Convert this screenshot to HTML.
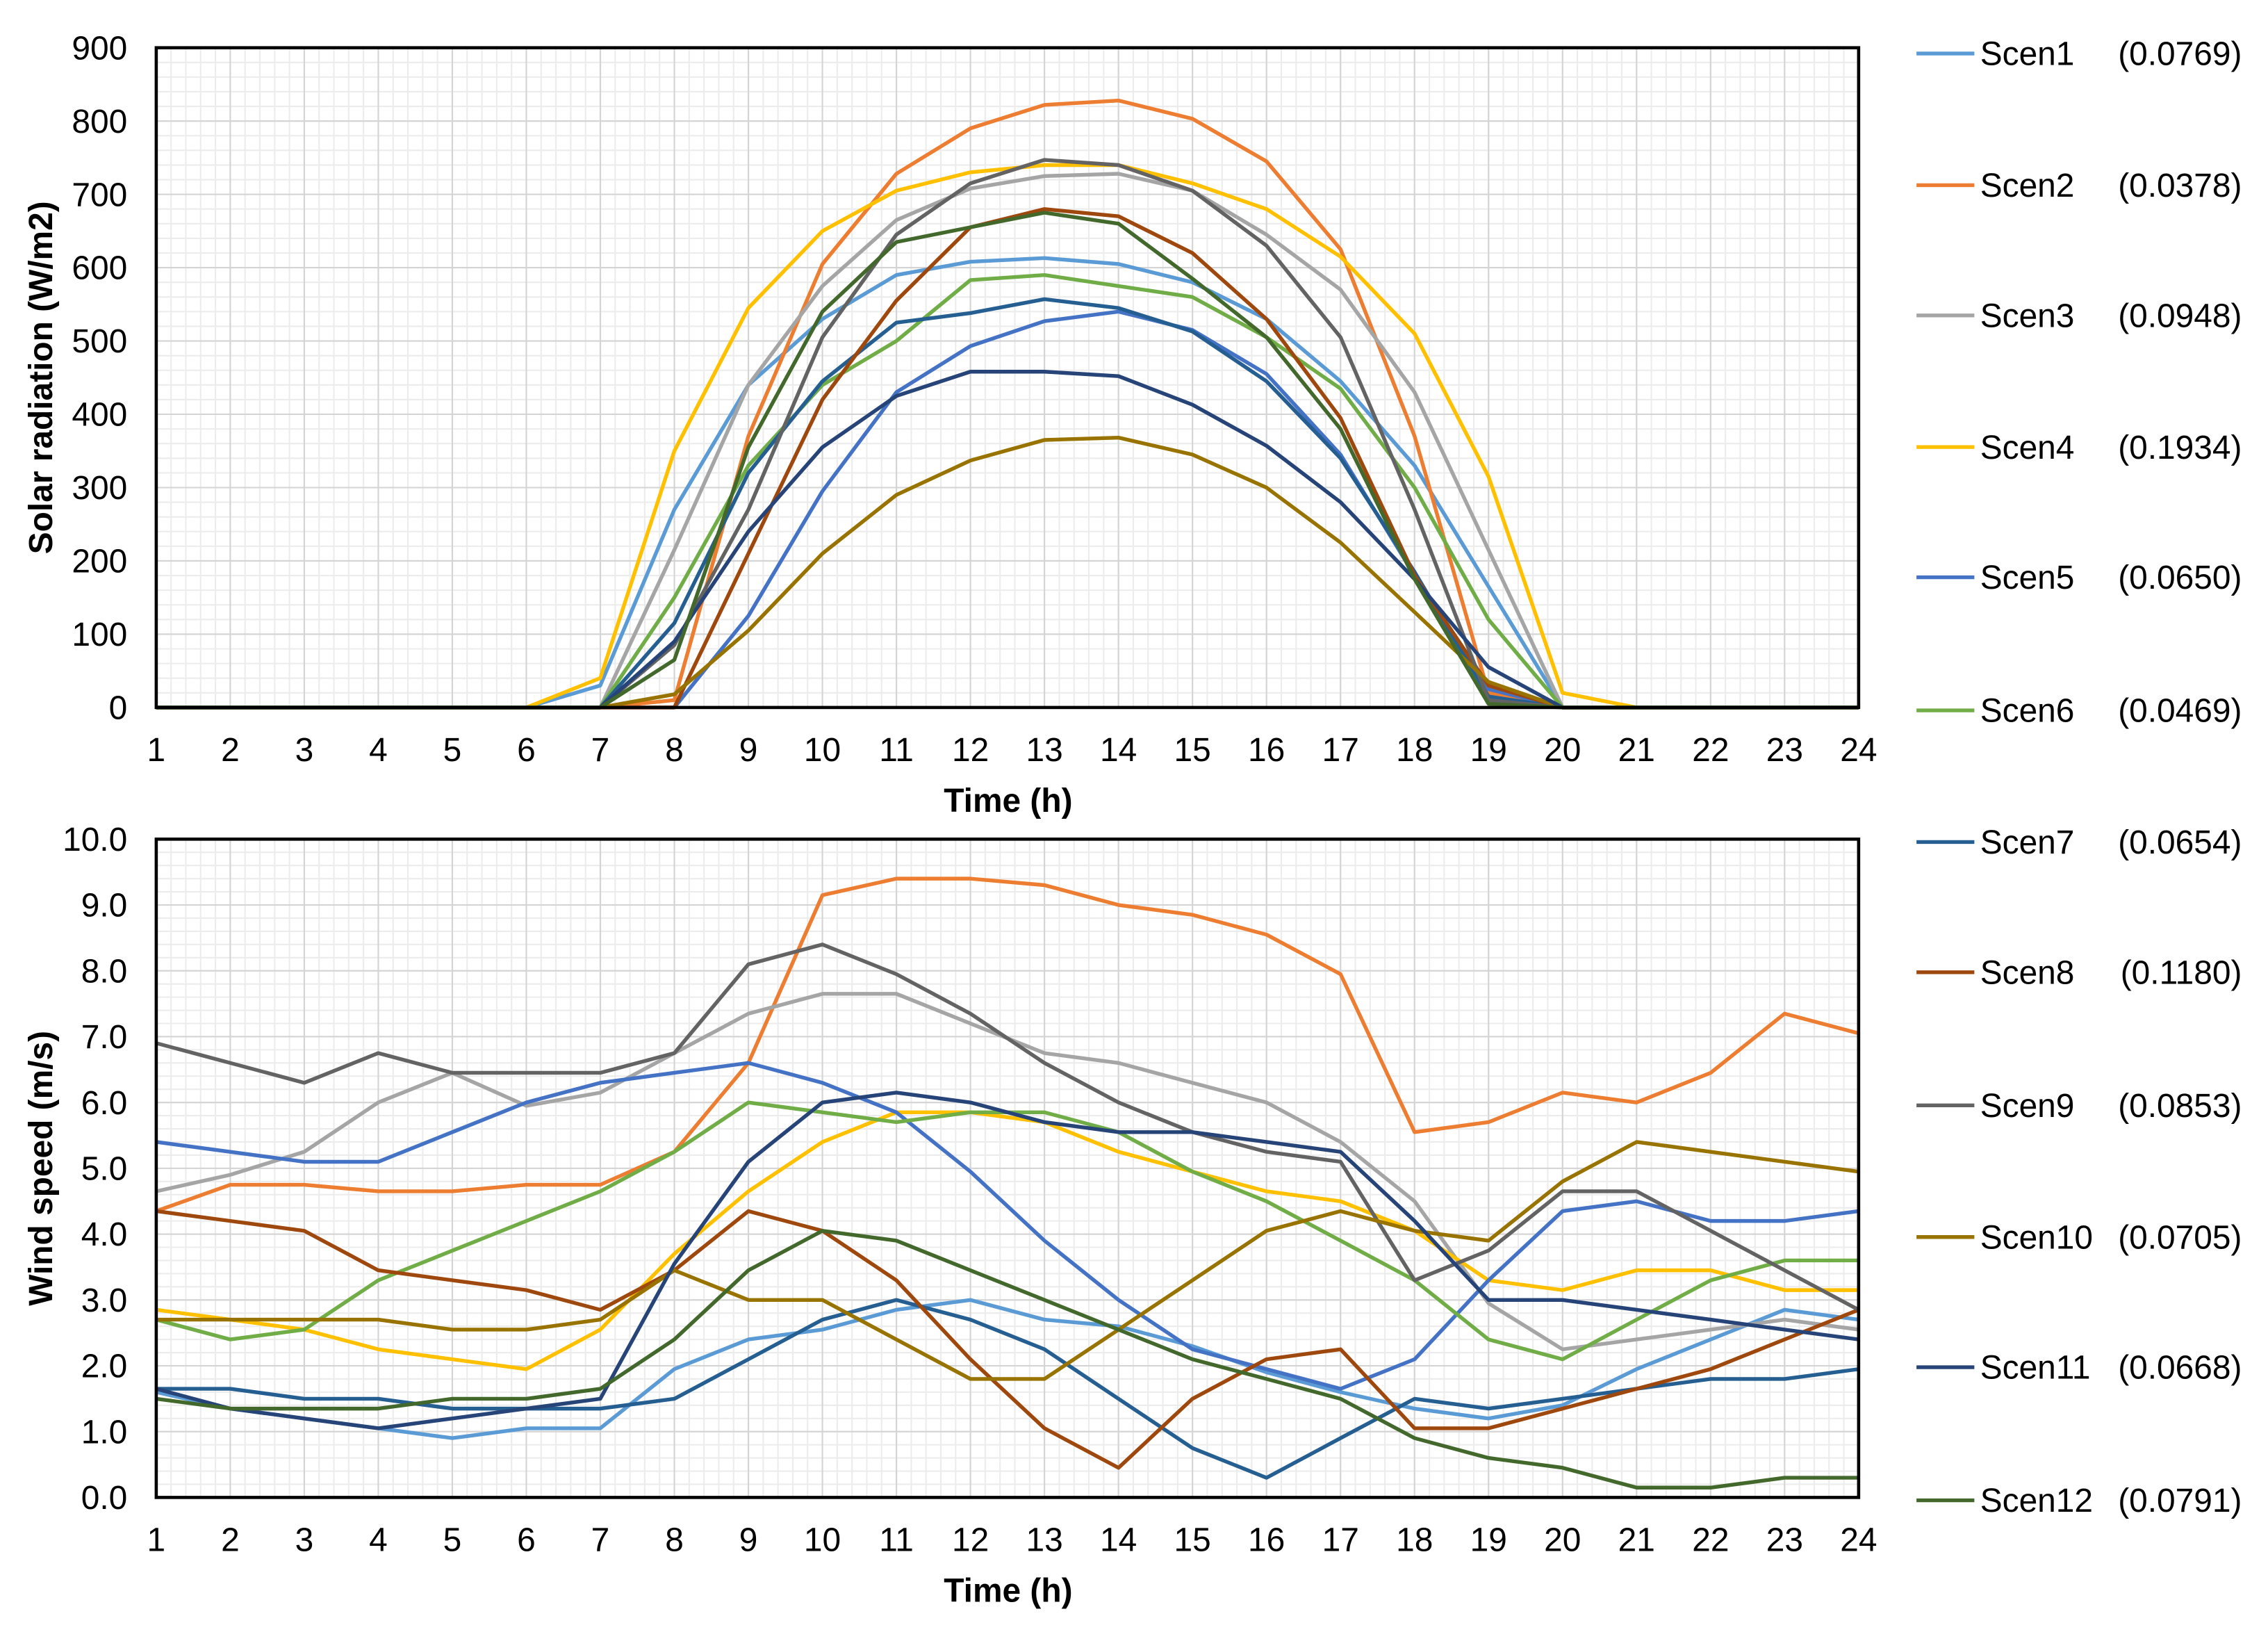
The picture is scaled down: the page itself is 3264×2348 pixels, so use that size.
<!DOCTYPE html>
<html><head><meta charset="utf-8"><style>
html,body{margin:0;padding:0;background:#fff;}
svg{display:block;font-family:"Liberation Sans",Arial,sans-serif;}
</style></head><body>
<svg id="chart" width="3264" height="2348" viewBox="0 0 1568 1128" xmlns="http://www.w3.org/2000/svg"></svg>
<script>
const hours = [1,2,3,4,5,6,7,8,9,10,11,12,13,14,15,16,17,18,19,20,21,22,23,24];
const scenNames = ["Scen1","Scen2","Scen3","Scen4","Scen5","Scen6","Scen7","Scen8","Scen9","Scen10","Scen11","Scen12"];
const scenProbs = ["(0.0769)","(0.0378)","(0.0948)","(0.1934)","(0.0650)","(0.0469)","(0.0654)","(0.1180)","(0.0853)","(0.0705)","(0.0668)","(0.0791)"];
const colors = ["#5B9BD5","#ED7D31","#A5A5A5","#FFC000","#4472C4","#70AD47","#255E91","#9E480E","#636363","#997300","#264478","#43682B"];
const solarTicks = [0,100,200,300,400,500,600,700,800,900];
const windTicks = [0,1,2,3,4,5,6,7,8,9,10];
const solar1 = [0,0,0,0,0,0,30,270,440,530,590,608,613,605,580,530,445,330,165,0,0,0,0,0];
const solar2 = [0,0,0,0,0,0,0,10,370,605,728,790,822,828,803,745,625,370,20,0,0,0,0,0];
const solar3 = [0,0,0,0,0,0,0,215,440,575,665,708,725,728,705,645,570,430,215,0,0,0,0,0];
const solar4 = [0,0,0,0,0,0,40,350,545,650,705,730,740,740,715,680,615,510,315,20,0,0,0,0];
const solar5 = [0,0,0,0,0,0,0,0,125,295,430,493,527,540,515,455,345,180,25,0,0,0,0,0];
const solar6 = [0,0,0,0,0,0,0,150,330,440,500,583,590,575,560,505,435,300,120,0,0,0,0,0];
const solar7 = [0,0,0,0,0,0,0,115,320,445,525,538,557,545,513,445,340,185,15,0,0,0,0,0];
const solar8 = [0,0,0,0,0,0,0,0,210,420,555,655,680,670,620,530,395,180,30,0,0,0,0,0];
const solar9 = [0,0,0,0,0,0,0,85,270,505,645,715,747,740,705,630,505,270,10,0,0,0,0,0];
const solar10 = [0,0,0,0,0,0,0,18,105,210,290,337,365,368,345,300,225,130,35,0,0,0,0,0];
const solar11 = [0,0,0,0,0,0,0,90,240,355,425,458,458,452,413,357,280,175,55,0,0,0,0,0];
const solar12 = [0,0,0,0,0,0,0,65,355,540,635,655,675,660,585,505,380,175,5,0,0,0,0,0];
const wind1 = [1.6,1.35,1.2,1.05,0.9,1.05,1.05,1.95,2.4,2.55,2.85,3.0,2.7,2.6,2.3,1.9,1.6,1.35,1.2,1.4,1.95,2.4,2.85,2.7];
const wind2 = [4.35,4.75,4.75,4.65,4.65,4.75,4.75,5.25,6.6,9.15,9.4,9.4,9.3,9.0,8.85,8.55,7.95,5.55,5.7,6.15,6.0,6.45,7.35,7.05];
const wind3 = [4.65,4.9,5.25,6.0,6.45,5.95,6.15,6.75,7.35,7.65,7.65,7.2,6.75,6.6,6.3,6.0,5.4,4.5,2.95,2.25,2.4,2.55,2.7,2.55];
const wind4 = [2.85,2.7,2.55,2.25,2.1,1.95,2.55,3.7,4.65,5.4,5.85,5.85,5.7,5.25,4.95,4.65,4.5,4.05,3.3,3.15,3.45,3.45,3.15,3.15];
const wind5 = [5.4,5.25,5.1,5.1,5.55,6.0,6.3,6.45,6.6,6.3,5.85,4.95,3.9,3.0,2.25,1.95,1.65,2.1,3.3,4.35,4.5,4.2,4.2,4.35];
const wind6 = [2.7,2.4,2.55,3.3,3.75,4.2,4.65,5.25,6.0,5.85,5.7,5.85,5.85,5.55,4.95,4.5,3.9,3.3,2.4,2.1,2.7,3.3,3.6,3.6];
const wind7 = [1.65,1.65,1.5,1.5,1.35,1.35,1.35,1.5,2.1,2.7,3.0,2.7,2.25,1.5,0.75,0.3,0.9,1.5,1.35,1.5,1.65,1.8,1.8,1.95];
const wind8 = [4.35,4.2,4.05,3.45,3.3,3.15,2.85,3.45,4.35,4.05,3.3,2.1,1.05,0.45,1.5,2.1,2.25,1.05,1.05,1.35,1.65,1.95,2.4,2.85];
const wind9 = [6.9,6.6,6.3,6.75,6.45,6.45,6.45,6.75,8.1,8.4,7.95,7.35,6.6,6.0,5.55,5.25,5.1,3.3,3.75,4.65,4.65,4.05,3.45,2.85];
const wind10 = [2.7,2.7,2.7,2.7,2.55,2.55,2.7,3.45,3.0,3.0,2.4,1.8,1.8,2.55,3.3,4.05,4.35,4.05,3.9,4.8,5.4,5.25,5.1,4.95];
const wind11 = [1.65,1.35,1.2,1.05,1.2,1.35,1.5,3.55,5.1,6.0,6.15,6.0,5.7,5.55,5.55,5.4,5.25,4.2,3.0,3.0,2.85,2.7,2.55,2.4];
const wind12 = [1.5,1.35,1.35,1.35,1.5,1.5,1.65,2.4,3.45,4.05,3.9,3.45,3.0,2.55,2.1,1.8,1.5,0.9,0.6,0.45,0.15,0.15,0.3,0.3];
const solarSeries = [solar1,solar2,solar3,solar4,solar5,solar6,solar7,solar8,solar9,solar10,solar11,solar12];
const windSeries = [wind1,wind2,wind3,wind4,wind5,wind6,wind7,wind8,wind9,wind10,wind11,wind12];

const NS = "http://www.w3.org/2000/svg";
const svg = document.getElementById("chart");
function mk(tag, attrs, parent, text) {
  const e = document.createElementNS(NS, tag);
  for (const k in attrs) e.setAttribute(k, attrs[k]);
  if (text !== undefined) e.textContent = text;
  (parent || svg).appendChild(e);
  return e;
}
const X0 = 108, X1 = 1285;
function xScale(h) { return X0 + (h - 1) * (X1 - X0) / 23; }

function panel(name, top, bottom, ymax, ticks, series, yTitle, fmt) {
  const g = mk("g", {});
  
  
  const yScale = v => bottom - v / ymax * (bottom - top);
  const minorStep = ymax / (ticks.length - 1) / 5;
  for (let v = 0; v <= ymax + 1e-9; v += minorStep) {
    mk("line", {x1: X0, x2: X1, y1: yScale(v), y2: yScale(v), stroke: "#ececec", "stroke-width": 1}, g);
  }
  for (let h = 1; h < 24; h += 0.2) {
    const x = xScale(h);
    mk("line", {x1: x, x2: x, y1: top, y2: bottom, stroke: "#ececec", "stroke-width": 1}, g);
  }
  ticks.forEach(t => {
    mk("line", {x1: X0, x2: X1, y1: yScale(t), y2: yScale(t), stroke: "#d4d4d4", "stroke-width": 1}, g);
    const lab = mk("text", {x: 88, y: yScale(t) + 8, "text-anchor": "end", "font-size": 23, fill: "#000"}, g, fmt(t));
    
    
  });
  hours.forEach(h => {
    mk("line", {x1: xScale(h), x2: xScale(h), y1: top, y2: bottom, stroke: "#d4d4d4", "stroke-width": 1}, g);
    const lab = mk("text", {x: xScale(h), y: bottom + 37, "text-anchor": "middle", "font-size": 23, fill: "#000"}, g, String(h));
    
    
  });
  series.forEach((s, i) => {
    const pts = s.map((v, j) => xScale(hours[j]).toFixed(1) + "," + yScale(v).toFixed(1)).join(" ");
    const pl = mk("polyline", {points: pts, fill: "none", stroke: colors[i], "stroke-width": 2.6, "stroke-linejoin": "round"}, g);
    
    
  });
  const fr = mk("rect", {x: X0, y: top, width: X1 - X0, height: bottom - top, fill: "none", stroke: "#000", "stroke-width": 2.2}, g);
  
  
  const xt = mk("text", {x: 697, y: bottom + 72, "text-anchor": "middle", "font-size": 23, "font-weight": "bold", fill: "#000"}, g, "Time (h)");
  
  
  const cy = (top + bottom) / 2;
  const yt = mk("text", {x: 36, y: cy, "text-anchor": "middle", "font-size": 23, "font-weight": "bold", fill: "#000", transform: "rotate(-90 36 " + cy + ")"}, g, yTitle);
  
  
}
panel("solar-radiation-chart", 33, 489, 900, solarTicks, solarSeries, "Solar radiation (W/m2)", t => String(t));
panel("wind-speed-chart", 580, 1035, 10, windTicks, windSeries, "Wind speed (m/s)", t => t.toFixed(1));

const lg = mk("g", {});


const legendY = [37,128,218,309,399,491,582,672,764,855,945,1037];
scenNames.forEach((n, i) => {
  const y = legendY[i];
  const e = mk("g", {}, lg);
  
  
  mk("line", {x1: 1325, x2: 1365, y1: y, y2: y, stroke: colors[i], "stroke-width": 2.6}, e);
  mk("text", {x: 1369, y: y + 8, "font-size": 23, fill: "#000"}, e, n);
  mk("text", {x: 1550, y: y + 8, "font-size": 23, fill: "#000", "text-anchor": "end"}, e, scenProbs[i]);
});
</script>
</body></html>
